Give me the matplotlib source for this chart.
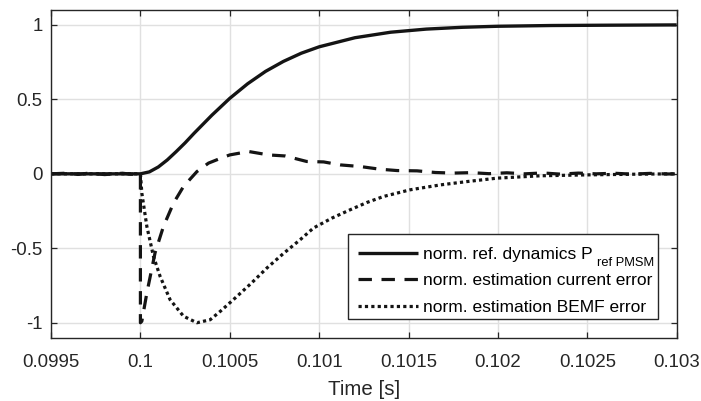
import matplotlib
matplotlib.use("Agg")
import matplotlib.pyplot as plt
from matplotlib.patches import Rectangle
from matplotlib.transforms import IdentityTransform

plt.rcParams['font.family'] = ['Liberation Sans', 'DejaVu Sans']
plt.rcParams['axes.unicode_minus'] = False

# normalised reference dynamics
t_ref = [0.0995, 0.0997, 0.0999, 0.1, 0.10005, 0.1001, 0.10015, 0.1002, 0.10025,
         0.1003, 0.1004, 0.1005, 0.1006, 0.1007, 0.1008, 0.1009, 0.1010, 0.1012,
         0.1014, 0.1016, 0.1018, 0.1020, 0.1023, 0.1026, 0.1030]
p_ref = [0.0, 0.0, 0.0, 0.0, 0.013, 0.046, 0.093, 0.149, 0.208,
         0.272, 0.394, 0.507, 0.605, 0.688, 0.755, 0.810, 0.853, 0.914,
         0.951, 0.972, 0.984, 0.991, 0.996, 0.998, 1.0]

# normalised estimation current error
t_cur = [0.0995, 0.0996, 0.09965, 0.0997, 0.09975, 0.0998, 0.0999, 0.09995, 0.1,
         0.1, 0.100008, 0.100036, 0.100082, 0.100129, 0.100185, 0.100241,
         0.100316, 0.100381, 0.10045, 0.1005, 0.100605, 0.100717, 0.10081,
         0.10093, 0.101025, 0.101118, 0.10123, 0.10134, 0.101436, 0.101548,
         0.10165, 0.10175, 0.10185, 0.10195, 0.10205, 0.10215, 0.10225,
         0.10235, 0.10245, 0.10255, 0.10265, 0.10275, 0.10285, 0.10295, 0.103]
e_cur = [0.0, 0.005, -0.004, 0.003, 0.0, -0.005, 0.004, -0.003, 0.0,
         -1.0, -0.99, -0.80, -0.53, -0.353, -0.197, -0.085,
         0.015, 0.072, 0.105, 0.127, 0.150, 0.127, 0.12,
         0.083, 0.080, 0.06, 0.049, 0.031, 0.022, 0.020,
         0.009, 0.005, 0.008, 0.001, 0.007, 0.0, 0.006,
         -0.002, 0.005, 0.0, 0.004, -0.002, 0.003, -0.001, 0.0]

# normalised estimation BEMF error
t_bemf = [0.0995, 0.0997, 0.0999, 0.1, 0.100008, 0.100036, 0.100073, 0.10011,
          0.100166, 0.100241, 0.100316, 0.10039, 0.10045, 0.10052, 0.10062,
          0.100708, 0.1008, 0.100894, 0.100968, 0.10107, 0.101174, 0.101268,
          0.10136, 0.10151, 0.10168, 0.101827, 0.101995, 0.10224, 0.1025,
          0.1028, 0.103]
e_bemf = [0.0, 0.0, 0.0, 0.0, -0.13, -0.353, -0.554, -0.688,
          -0.845, -0.956, -1.0, -0.98, -0.92, -0.845, -0.735,
          -0.632, -0.535, -0.442, -0.364, -0.298, -0.241, -0.192,
          -0.152, -0.107, -0.074, -0.052, -0.029, -0.013, -0.007,
          -0.002, 0.0]

x_ticks = [0.0995, 0.1, 0.1005, 0.101, 0.1015, 0.102, 0.1025, 0.103]
x_tick_labels = ['0.0995', '0.1', '0.1005', '0.101', '0.1015', '0.102', '0.1025', '0.103']
y_ticks = [-1, -0.5, 0, 0.5, 1]
y_tick_labels = ['-1', '-0.5', '0', '0.5', '1']

labels = ['norm. ref. dynamics P',
          'norm. estimation current error',
          'norm. estimation BEMF error']
ref_subscript = 'ref PMSM'

axis_grey = '#262626'
line_col = '#141414'

fig = plt.figure(figsize=(7.01, 4.01), dpi=100)
ax = fig.add_axes([0.0728, 0.158, 0.8925, 0.817])

ax.plot(t_ref, p_ref, color=line_col, lw=2.4, solid_capstyle='butt', label=labels[0])
ax.plot(t_cur, e_cur, color=line_col, lw=2.3, linestyle=(0, (4.2, 3.0)),
        dash_capstyle='butt', label=labels[1])
ax.plot(t_bemf, e_bemf, color=line_col, lw=2.3, linestyle=(0, (1.0, 1.0)),
        dash_capstyle='butt', label=labels[2])

ax.set_xlim(0.0995, 0.103)
ax.set_ylim(-1.1, 1.1)
ax.set_xticks(x_ticks)
ax.set_xticklabels(x_tick_labels)
ax.set_yticks(y_ticks)
ax.set_yticklabels(y_tick_labels)

ax.grid(True, color='#e0e0e0', lw=1.0)
ax.set_axisbelow(True)
for s in ax.spines.values():
    s.set_color(axis_grey)
    s.set_linewidth(1.0)
ax.tick_params(direction='in', length=4.5, width=0.9, color=axis_grey,
               labelcolor=axis_grey, labelsize=13.4, top=True, right=True)
ax.tick_params(axis='x', pad=12)
ax.tick_params(axis='y', pad=6)

ax.set_xlabel('Time [s]', fontsize=14.8, color=axis_grey, labelpad=6)

# legend box (MATLAB style: wider left margin than right)
box = Rectangle((0.4742, 0.0561), 0.4954, 0.2594, transform=ax.transAxes,
                facecolor='white', edgecolor=axis_grey, lw=1.0, zorder=4)
ax.add_patch(box)

leg = ax.legend(loc='upper left', bbox_to_anchor=(0.490, 0.278), borderaxespad=0,
                fontsize=12.5, frameon=False, handlelength=3.5, handletextpad=0.28,
                borderpad=0.0, labelspacing=0.65)
leg.set_zorder(5)

fig.canvas.draw()
bb = leg.get_texts()[0].get_window_extent()
fig.text(bb.x1 + 4, (bb.y0 + bb.y1) / 2 - 8.5, ref_subscript, transform=IdentityTransform(),
         fontsize=9.3, color='black', va='center', ha='left', zorder=6)

fig.savefig('out.png', dpi=100, facecolor='white')
